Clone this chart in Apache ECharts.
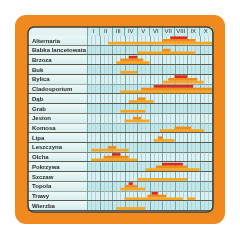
<!DOCTYPE html>
<html>
<head>
<meta charset="utf-8">
<script src="https://cdn.jsdelivr.net/npm/echarts@6/dist/echarts.min.js"></script>
<style>
  html, body { margin: 0; padding: 0; background: #fff; }
  #chart { width: 240px; height: 240px; }
</style>
</head>
<body>
<div id="chart"></div>
<script>
// kalendarz pylenia - x w dekadach (3 na miesiąc)
const months = ['I', 'II', 'III', 'IV', 'V', 'VI', 'VII', 'VIII', 'IX', 'X'];
const species = ['Alternaria', 'Babka lancetowata', 'Brzoza', 'Buk', 'Bylica', 'Cladosporium',
  'Dąb', 'Grab', 'Jesion', 'Komosa', 'Lipa', 'Leszczyna', 'Olcha', 'Pokrzywa', 'Szczaw',
  'Topola', 'Trawy', 'Wierzba'];

// [wiersz, początek, koniec]
const lowLevel = [
  [0, 5, 30], [1, 12, 26], [2, 7, 15], [3, 8, 12], [4, 18, 28], [5, 8, 30], [6, 10, 16],
  [7, 8, 14], [8, 9, 15], [9, 17.5, 28], [10, 16, 21], [11, 1, 10], [12, 1, 12], [13, 14, 27],
  [14, 12, 24], [15, 8, 14], [16, 9, 23], [16, 24, 26], [17, 7, 14]
];
const midLevel = [
  [0, 18, 26], [1, 18, 20], [2, 8, 13.5], [4, 19.5, 26.5], [5, 13, 30], [6, 12, 14],
  [8, 11, 13], [9, 21, 25], [10, 17, 18], [11, 5, 7], [12, 4, 10], [13, 16.5, 24],
  [15, 9, 12], [16, 14.5, 19]
];
const highLevel = [
  [0, 20, 24], [2, 10, 12], [4, 21, 24], [5, 16, 25.5], [12, 6, 8], [13, 18, 23],
  [15, 10, 11], [16, 15.5, 17]
];

const chart = echarts.init(document.getElementById('chart'), null, { renderer: 'canvas' });

const LABEL_W = 59;

function renderRow(params, api) {
  const i = api.value(1);
  const c = api.coord([0, i]);
  const band = api.size([0, 1])[1];
  const cs = params.coordSys;
  const top = c[1] - band / 2;
  const children = [];
  children.push({
    type: 'rect',
    shape: { x: cs.x - LABEL_W, y: top, width: LABEL_W, height: band },
    style: {
      fill: new echarts.graphic.LinearGradient(0, 0, 0, 1, [
        { offset: 0, color: '#eef8f8' }, { offset: 1, color: '#d3eced' }
      ])
    }
  });
  children.push({
    type: 'rect',
    shape: { x: cs.x, y: top, width: cs.width, height: band },
    style: { fill: i % 2 ? '#c3e6e8' : '#dcf0f1' }
  });
  for (let d = 0; d <= 30; d++) {
    const x = Math.round(api.coord([d, i])[0]) + 0.5;
    children.push({
      type: 'line',
      shape: { x1: x, y1: top, x2: x, y2: top + band },
      style: { stroke: d % 3 === 0 ? '#6fabb0' : '#acd7da', lineWidth: 1 }
    });
  }
  const yb = Math.round(top + band) - 0.5;
  children.push({
    type: 'line',
    shape: { x1: cs.x - LABEL_W, y1: yb, x2: cs.x + cs.width, y2: yb },
    style: { stroke: '#5a5a4e', lineWidth: 1.2 }
  });
  return { type: 'group', children: children };
}

function levelRenderer(k) {
  return function (params, api) {
    const i = api.value(0);
    const p0 = api.coord([api.value(1), i]);
    const p1 = api.coord([api.value(2), i]);
    const band = api.size([0, 1])[1];
    const top = p0[1] - band / 2;
    const y0 = top + band * (0.88 - 0.28 * (k + 1));
    return {
      type: 'rect',
      shape: { x: p0[0], y: y0, width: p1[0] - p0[0], height: band * 0.28 },
      style: { fill: ['#f6a623', '#f08b18', '#dc2a1c'][k] }
    };
  };
}

chart.setOption({
  animation: false,
  graphic: [
    { type: 'rect', z: -10, shape: { x: 15, y: 15, width: 210, height: 209, r: 11 }, style: { fill: '#f08a1f' } },
    { type: 'rect', z: -9, shape: { x: 28, y: 27, width: 185, height: 185, r: 6 }, style: { fill: '#e3f3f3' } },
    { type: 'rect', z: -8, shape: { x: 87, y: 27, width: 125, height: 9 }, style: { fill: '#cdebed' } },
    { type: 'rect', z: 100, shape: { x: 28, y: 27, width: 185, height: 185, r: 6 }, style: { fill: 'none', stroke: '#3f3f36', lineWidth: 1.5 } }
  ],
  grid: { left: 87, right: 28, top: 36, bottom: 29 },
  xAxis: [
    {
      type: 'value', min: 0, max: 30, interval: 3,
      axisLine: { show: false }, axisTick: { show: false }, axisLabel: { show: false },
      splitLine: { show: false }
    },
    {
      type: 'category', data: months, position: 'top', z: 10,
      axisLine: { show: false },
      axisTick: { show: true, length: 9, lineStyle: { color: '#6fabb0' } },
      axisLabel: { margin: 2, fontSize: 6, color: '#333', fontFamily: 'Liberation Sans' },
      splitLine: { show: false }
    }
  ],
  yAxis: {
    type: 'category', data: species, inverse: true, z: 10,
    axisLine: { show: false }, axisTick: { show: false },
    axisLabel: {
      align: 'left', margin: 55, fontSize: 6, fontWeight: 'bold',
      color: '#2a2a2a', fontFamily: 'Liberation Sans', verticalAlign: 'middle'
    },
    splitLine: { show: false }
  },
  series: [
    {
      type: 'custom', name: 'rows', clip: false, z: 1,
      data: species.map((s, i) => [0, i]),
      renderItem: renderRow, silent: true
    },
    { type: 'custom', name: 'low', data: lowLevel, renderItem: levelRenderer(0), encode: { x: [1, 2], y: 0 }, z: 3 },
    { type: 'custom', name: 'mid', data: midLevel, renderItem: levelRenderer(1), encode: { x: [1, 2], y: 0 }, z: 3 },
    { type: 'custom', name: 'high', data: highLevel, renderItem: levelRenderer(2), encode: { x: [1, 2], y: 0 }, z: 3 }
  ]
});
</script>
</body>
</html>
